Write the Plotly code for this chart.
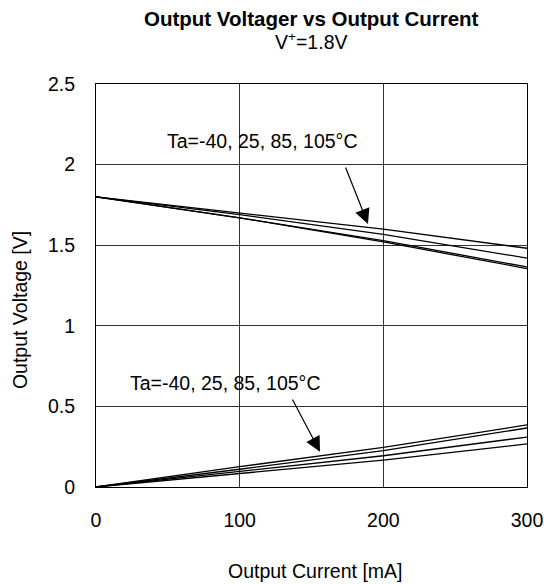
import plotly.graph_objects as go

current = [0, 100, 200, 300]
vout_high = [
    [1.80, 1.70, 1.600, 1.481],
    [1.80, 1.69, 1.567, 1.420],
    [1.80, 1.67, 1.528, 1.365],
    [1.80, 1.67, 1.520, 1.355],
]
vout_low = [
    [0.0, 0.126, 0.246, 0.385],
    [0.0, 0.110, 0.225, 0.366],
    [0.0, 0.095, 0.194, 0.310],
    [0.0, 0.085, 0.167, 0.267],
]
x_ticks = [0, 100, 200, 300]
y_ticks = [0, 0.5, 1, 1.5, 2, 2.5]
y_tick_text = ["0", "0.5", "1", "1.5", "2", "2.5"]
temp_label = "Ta=-40, 25, 85, 105°C"

FONT = "Liberation Sans, Arial, sans-serif"
FS = 19.5

fig = go.Figure()
for series in vout_high + vout_low:
    fig.add_trace(go.Scatter(x=current, y=series, mode="lines",
                             line=dict(color="black", width=1.3),
                             showlegend=False, hoverinfo="skip"))

# temperature labels and arrows
fig.add_annotation(x=115.2, y=2.146, xref="x", yref="y", text=temp_label,
                   showarrow=False, font=dict(family=FONT, size=FS, color="black"))
fig.add_annotation(x=90.1, y=0.645, xref="x", yref="y", text=temp_label,
                   showarrow=False, font=dict(family=FONT, size=FS, color="black"))
fig.add_annotation(x=189.3, y=1.632, ax=173.3, ay=1.991, xref="x", yref="y",
                   axref="x", ayref="y", text="", showarrow=True,
                   arrowhead=2, arrowsize=2.5, arrowwidth=1.2, arrowcolor="black")
fig.add_annotation(x=155.9, y=0.219, ax=136.2, ay=0.552, xref="x", yref="y",
                   axref="x", ayref="y", text="", showarrow=True,
                   arrowhead=2, arrowsize=2.5, arrowwidth=1.2, arrowcolor="black")

# title, subtitle, axis titles
fig.add_annotation(x=0.5, y=1, xref="paper", yref="paper", yshift=66,
                   xanchor="center", yanchor="middle", showarrow=False,
                   text="<b>Output Voltager vs Output Current</b>",
                   font=dict(family=FONT, size=20.5, color="black"))
fig.add_annotation(x=0.5, y=1, xref="paper", yref="paper", yshift=43,
                   xanchor="center", yanchor="middle", showarrow=False,
                   text="V<sup>+</sup>=1.8V",
                   font=dict(family=FONT, size=FS, color="black"))
fig.add_annotation(x=0.508, y=0, xref="paper", yref="paper", yshift=-84,
                   xanchor="center", yanchor="middle", showarrow=False,
                   text="Output Current [mA]",
                   font=dict(family=FONT, size=FS, color="black"))
fig.add_annotation(x=0, y=0.439, xref="paper", yref="paper", xshift=-76,
                   xanchor="center", yanchor="middle", showarrow=False,
                   textangle=-90, text="Output Voltage [V]",
                   font=dict(family=FONT, size=FS, color="black"))

fig.update_layout(
    width=544, height=584,
    margin=dict(l=96, r=17, t=84, b=97, autoexpand=False),
    paper_bgcolor="white", plot_bgcolor="white",
    font=dict(family=FONT, size=FS, color="black"),
)

fig.update_xaxes(range=[0, 300], tickvals=x_ticks, ticktext=[str(v) for v in x_ticks],
                 showgrid=True, gridcolor="#333", gridwidth=1,
                 showline=True, linecolor="black", linewidth=1, mirror=True,
                 ticks="", zeroline=False, automargin=False,
                 ticklabelstandoff=16,
                 tickfont=dict(family=FONT, size=FS))
fig.update_yaxes(range=[0, 2.5], tickvals=y_ticks, ticktext=y_tick_text,
                 showgrid=True, gridcolor="#333", gridwidth=1,
                 showline=True, linecolor="black", linewidth=1, mirror=True,
                 ticks="", zeroline=False, automargin=False,
                 ticklabelstandoff=16,
                 tickfont=dict(family=FONT, size=FS))

# remove the default page margin so the figure fills the window exactly
fig.write_html("out.html",
               config={"displayModeBar": False, "staticPlot": True},
               post_script="document.body.style.margin='0';"
                           "document.body.style.overflow='hidden';")
